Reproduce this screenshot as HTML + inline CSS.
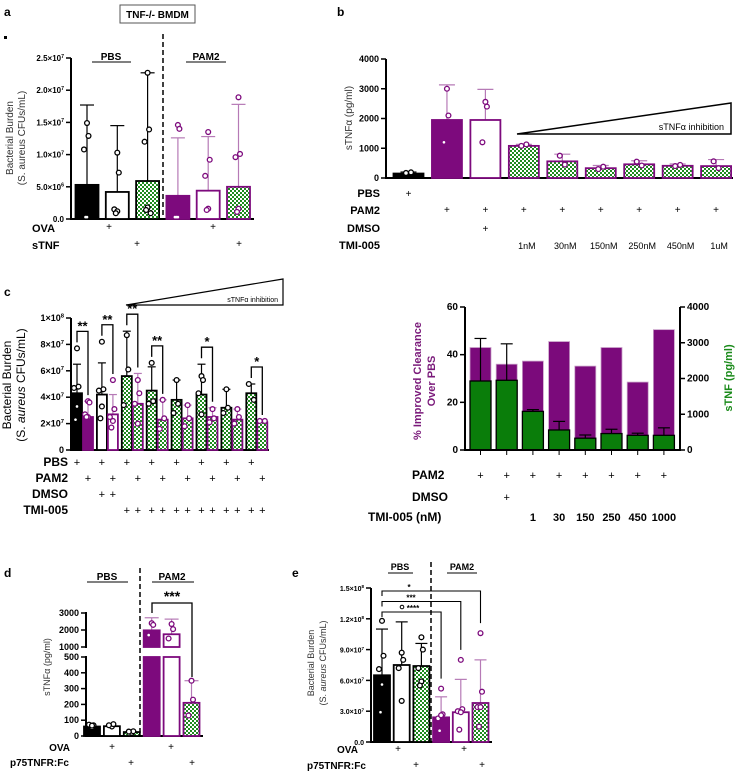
<!DOCTYPE html>
<html><head><meta charset="utf-8"><style>
html,body{margin:0;padding:0;background:#fff;}
svg{display:block;font-family:"Liberation Sans",sans-serif;}
.b{font-weight:bold;}
</style></head><body>
<svg id="fig" width="741" height="773" viewBox="0 0 741 773">
<defs>
<pattern id="chk" width="4" height="4" patternUnits="userSpaceOnUse"><rect width="4" height="4" fill="#fff"/><rect width="2" height="2" fill="#1f8a1f"/><rect x="2" y="2" width="2" height="2" fill="#1f8a1f"/></pattern>
</defs>
<text x="4" y="16" class="b" font-size="12">a</text>
<rect x="4" y="36" width="3" height="3" fill="#000"/>
<text x="337" y="16" class="b" font-size="12">b</text>
<text x="4" y="296" class="b" font-size="12">c</text>
<text x="4" y="577" class="b" font-size="12">d</text>
<text x="292" y="577" class="b" font-size="12">e</text>
<rect x="120" y="5" width="75" height="18" fill="#fff" stroke="#555"/>
<text x="157.5" y="18" text-anchor="middle" class="b" font-size="10">TNF-/- BMDM</text>
<text x="111" y="60" text-anchor="middle" class="b" font-size="10">PBS</text>
<line x1="92" y1="62" x2="131" y2="62" stroke="#000"/>
<text x="206" y="60" text-anchor="middle" class="b" font-size="10">PAM2</text>
<line x1="186" y1="62" x2="226" y2="62" stroke="#000"/>
<line x1="163" y1="34" x2="163" y2="219" stroke="#000" stroke-width="1.5" stroke-dasharray="5,3"/>
<text transform="translate(13,138) rotate(-90)" text-anchor="middle" font-size="10" fill="#333">Bacterial Burden</text>
<text transform="translate(25,138) rotate(-90)" text-anchor="middle" font-size="10" fill="#333">(S. aureus CFUs/mL)</text>
<text x="32" y="232" class="b" font-size="11">OVA</text>
<text x="32" y="249" class="b" font-size="11">sTNF</text>
<text transform="translate(352,118) rotate(-90)" text-anchor="middle" font-size="10" fill="#333">sTNFα (pg/ml)</text>
<polygon points="517,134 731,103 731,134" fill="#fff" stroke="#000" stroke-width="1.5"/>
<text x="724" y="130" text-anchor="end" font-size="9">sTNFα inhibition</text>
<text x="380" y="197" text-anchor="end" class="b" font-size="11">PBS</text>
<text x="380" y="214" text-anchor="end" class="b" font-size="11">PAM2</text>
<text x="380" y="232" text-anchor="end" class="b" font-size="11">DMSO</text>
<text x="380" y="249" text-anchor="end" class="b" font-size="11">TMI-005</text>
<polygon points="126,305 283,279 283,305" fill="#fff" stroke="#000" stroke-width="1.2"/>
<text x="278" y="302" text-anchor="end" font-size="7">sTNFα inhibition</text>
<text transform="translate(11,385) rotate(-90)" text-anchor="middle" font-size="12">Bacterial Burden</text>
<text transform="translate(25,385) rotate(-90)" text-anchor="middle" font-size="12">(S. <tspan font-style="italic">aureus</tspan> CFUs/mL)</text>
<text x="68" y="466" text-anchor="end" class="b" font-size="12">PBS</text>
<text x="68" y="482" text-anchor="end" class="b" font-size="12">PAM2</text>
<text x="68" y="498" text-anchor="end" class="b" font-size="12">DMSO</text>
<text x="68" y="514" text-anchor="end" class="b" font-size="12">TMI-005</text>
<text transform="translate(421,381) rotate(-90)" text-anchor="middle" class="b" font-size="11" fill="#7a1a7a">% Improved Clearance</text>
<text transform="translate(435,381) rotate(-90)" text-anchor="middle" class="b" font-size="11" fill="#7a1a7a">Over PBS</text>
<text transform="translate(732,378) rotate(-90)" text-anchor="middle" class="b" font-size="11" fill="#1a8a1a">sTNF (pg/ml)</text>
<text x="412" y="479" class="b" font-size="12">PAM2</text>
<text x="412" y="501" class="b" font-size="12">DMSO</text>
<text x="368" y="521" class="b" font-size="12">TMI-005 (nM)</text>
<text x="107" y="580" text-anchor="middle" class="b" font-size="10">PBS</text>
<line x1="87" y1="582" x2="128" y2="582" stroke="#000"/>
<text x="172" y="580" text-anchor="middle" class="b" font-size="10">PAM2</text>
<line x1="152" y1="582" x2="194" y2="582" stroke="#000"/>
<line x1="140" y1="568" x2="140" y2="736" stroke="#000" stroke-width="1.5" stroke-dasharray="5,3"/>
<text transform="translate(50,667) rotate(-90)" text-anchor="middle" font-size="9" fill="#333">sTNFα (pg/ml)</text>
<text x="70" y="751" text-anchor="end" class="b" font-size="10">OVA</text>
<text x="10" y="766" class="b" font-size="10">p75TNFR:Fc</text>
<text x="400" y="570" text-anchor="middle" class="b" font-size="9">PBS</text>
<line x1="388" y1="573" x2="413" y2="573" stroke="#000"/>
<text x="462" y="570" text-anchor="middle" class="b" font-size="9">PAM2</text>
<line x1="447" y1="573" x2="477" y2="573" stroke="#000"/>
<line x1="431" y1="562" x2="431" y2="742" stroke="#000" stroke-width="1.5" stroke-dasharray="5,3"/>
<text transform="translate(314,663) rotate(-90)" text-anchor="middle" font-size="9" fill="#333">Bacterial Burden</text>
<text transform="translate(326,663) rotate(-90)" text-anchor="middle" font-size="9" fill="#333">(S. <tspan font-style="italic">aureus</tspan> CFUs/mL)</text>
<text x="337" y="753" class="b" font-size="10">OVA</text>
<text x="307" y="769" class="b" font-size="10">p75TNFR:Fc</text>
</svg>
<script>
const aCategories=['PBS','PBS OVA','PBS sTNF','PAM2','PAM2 OVA','PAM2 sTNF'];
const aMeans=[5.3,4.2,5.9,3.6,4.4,5.0];
const aErrTop=[17.7,14.5,22.7,12.6,12.8,17.8];
const aPoints=[[14.9,12.9,10.8,0.3,0.3],[10.3,7.2,1.5,1.2,0.9],[22.7,13.9,12.0,1.8,1.4,0.9],[14.6,14.0,0.3,0.3,0.3],[13.5,9.2,6.7,1.6,1.4],[18.9,10.1,9.6,1.6,1.1]];
const aTicks=[0,5,10,15,20,25];
const aTickLabels=['0.0','5.0×10^6','1.0×10^7','1.5×10^7','2.0×10^7','2.5×10^7'];
const bCategories=['PBS','PAM2','PAM2 DMSO','1nM','30nM','150nM','250nM','450nM','1uM'];
const bMeans=[150,1950,1950,1080,560,330,460,410,400];
const bErrTop=[200,3130,2980,1130,800,420,580,470,620];
const bErrLow=[null,null,1300,null,null,null,null,null,null];
const bPoints=[[170,190],[3000,2100,1200],[2560,2400,1200],[1080,1130],[750,450],[300,380],[550,420],[400,440],[560,330]];
const bTicks=[0,1000,2000,3000,4000];
const bTickLabels=['0','1000','2000','3000','4000'];
const bDoseLabels=['','','','1nM','30nM','150nM','250nM','450nM','1uM'];
const cMeansPBS=[4.3,4.2,5.6,4.5,3.8,4.2,3.2,4.3];
const cMeansPAM=[2.5,2.7,3.5,2.3,2.4,2.5,2.3,2.1];
const cErrPBS=[6.5,6.6,9.0,6.3,5.3,6.5,4.6,5.0];
const cErrPAM=[3.7,4.2,5.8,3.8,3.4,3.2,3.1,2.2];
const cPtsPBS=[[7.7,4.8,4.7,3.3,2.3],[8.2,4.6,4.5,3.3,2.4],[8.7,6.1,3.4],[6.6,3.7,3.5],[5.3,3.5,2.8],[5.6,5.3,4.3,2.7],[4.6,3.2,2.8],[5.0,3.8]];
const cPtsPAM=[[3.7,3.6,2.7,2.5,2.5],[5.3,3.1,2.5,2.2,1.7],[5.3,4.3,3.5,2.0],[3.8,2.4,1.6],[3.4,2.4,1.8],[3.1,2.4,2.1],[3.1,2.5,2.0],[2.2,2.2]];
const cSigPairs=[0,1,2,3,5,7];
const cSigLabels=['**','**','**','**','*','*'];
const cTicks=[0,2,4,6,8,10];
const cTickLabels=['0','2×10^7','4×10^7','6×10^7','8×10^7','1×10^8'];
const rDoses=['','','1','30','150','250','450','1000'];
const rClearance=[43,36,37.3,45.5,35.2,43,28.5,50.5];
const rTNF=[1930,1950,1080,560,330,460,410,410];
const rTNFErr=[3120,2970,1130,800,420,580,470,620];
const rLeftTicks=[0,20,40,60];
const rLeftLabels=['0','20','40','60'];
const rRightTicks=[0,1000,2000,3000,4000];
const rRightLabels=['0','1000','2000','3000','4000'];
const dMeans=[60,62,25,1980,1750,210];
const dErrTop=[null,null,null,2720,2640,350];
const dPoints=[[55,68,72,66],[60,75,68],[20,30,28],[2400,2300,1700],[2350,2050,1500],[350,230,130]];
const dLowTicks=[0,100,200,300,400,500];
const dLowLabels=['0','100','200','300','400','500'];
const dHighTicks=[1000,2000,3000];
const dHighLabels=['1000','2000','3000'];
const eMeans=[6.5,7.5,7.4,2.4,2.9,3.8];
const eErrTop=[11.0,11.7,9.6,4.4,6.1,8.0];
const eErrLow=[null,4.9,null,null,1.6,null];
const ePoints=[[11.8,8.4,7.1,5.6,2.9],[8.7,8.0,7.2,4.0],[10.2,9.0,7.2,5.9,5.5],[5.2,2.7,2.3,2.6,1.1],[8.0,3.2,3.0,2.9,1.2],[10.6,4.9,3.4,3.4,1.5]];
const eSigTargets=[5,4,3];
const eSigLabels=['*','***','****'];
const eTicks=[0,3,6,9,12,15];
const eTickLabels=['0.0','3.0×10^7','6.0×10^7','9.0×10^7','1.2×10^8','1.5×10^8'];

const NS='http://www.w3.org/2000/svg';
const svg=document.getElementById('fig');
const PUR='#7d0a7d', LPUR='#b67ab6';
function mk(tag,a){const e=document.createElementNS(NS,tag);for(const k in a)e.setAttribute(k,a[k]);svg.appendChild(e);return e;}
function lab(x,y,str,anchor,size,bold,fill){
  const t=mk('text',{x:x,y:y,'text-anchor':anchor,'font-size':size,fill:fill||'#000'});
  if(bold)t.setAttribute('font-weight','bold');
  const p=str.split('^');
  t.appendChild(document.createTextNode(p[0]));
  if(p[1]){const s=document.createElementNS(NS,'tspan');s.setAttribute('dy',-size*0.4);s.setAttribute('font-size',size*0.65);s.textContent=p[1];t.appendChild(s);}
  return t;
}
function yAxis(prefix,x,y0,y1,ticks,labels,yf,side,fs,color){
  const ax=mk('line',{x1:x,y1:y0,x2:x,y2:y1,stroke:'#000','stroke-width':2});
  
  
  ticks.forEach((v,i)=>{
    const y=yf(v);
    const tk=mk('line',{x1:x,y1:y,x2:side<0?x-5:x+5,y2:y,stroke:'#000','stroke-width':1.5});
    
    
    const t=lab(side<0?x-7:x+7,y+3,labels[i],side<0?'end':'start',fs,true,color||'#000');
    
    
  });
}
function xAxis(prefix,x0,x1,y){
  const l=mk('line',{x1:x0,y1:y,x2:x1,y2:y,stroke:'#000','stroke-width':2});
  
  
}
const STY={k:['#000','#000'],p:[PUR,PUR],wk:['#fff','#000'],wp:['#fff',PUR],ck:['url(#chk)','#000'],cp:['url(#chk)',PUR]};
function bar(prefix,cx,w,yTop,yBase,st){
  const s=STY[st];
  const r=mk('rect',{x:cx-w/2,y:Math.min(yTop,yBase),width:w,height:Math.abs(yBase-yTop),fill:s[0],stroke:s[1],'stroke-width':1.8});
  
  
  return r;
}
function err(prefix,cx,yFrom,yTo,cap,col){
  const l=mk('line',{x1:cx,y1:yFrom,x2:cx,y2:yTo,stroke:col,'stroke-width':1.2});
  
  
  const c=mk('line',{x1:cx-cap/2,y1:yTo,x2:cx+cap/2,y2:yTo,stroke:col,'stroke-width':1.2});
  
  
}
function pts(prefix,cx,vals,yf,yTop,st){
  const filled=(st==='k'||st==='p');
  const col=(st==='k'||st==='wk'||st==='ck')?'#000':PUR;
  vals.forEach((v,j)=>{
    const y=yf(v);
    const dx=(j%2?1:-1)*(vals.length>2?(j%3)*1.5:2.5);
    let c;
    if(filled&&y>yTop+3){c=mk('circle',{cx:cx+dx,cy:y,r:1.3,fill:'#fff'});}
    else{c=mk('circle',{cx:cx+dx,cy:y,r:2.4,fill:'#fff',stroke:col,'stroke-width':1.3});}
    
    
  });
}
function plus(prefix,x,y,fs){
  const t=lab(x,y,'+','middle',fs||10,false);
  
  
}

const yA=v=>219-v/25*161;
const aStyles=['k','wk','ck','p','wp','cp'];
yAxis('a',71,58,220,aTicks,aTickLabels,yA,-1,8);
xAxis('a',70,254,219);
aMeans.forEach((m,i)=>{
  const cx=87+i*30.3, st=aStyles[i], col=i<3?'#000':LPUR;
  err('a',cx,yA(m),yA(aErrTop[i]),14,col);
  bar('a',cx,23,yA(m),219,st);
  pts('a',cx,aPoints[i],yA,yA(m),st);
});
[[109,230],[213,230],[137,247],[239,247]].forEach(p=>plus('a',p[0],p[1]));

const yB=v=>178-v/4000*119;
const bStyles=['k','p','wp','cp','cp','cp','cp','cp','cp'];
yAxis('b',386,59,179,bTicks,bTickLabels,yB,-1,9);
xAxis('b',385,733,178);
bMeans.forEach((m,i)=>{
  const cx=408.5+i*38.45, st=bStyles[i], col=i===0?'#000':LPUR;
  err('b',cx,yB(m),yB(bErrTop[i]),16,col);
  if(bErrLow[i]!==null)err('b',cx,yB(m),yB(bErrLow[i]),16,col);
  bar('b',cx,30,yB(m),178,st);
  pts('b',cx,bPoints[i],yB,yB(m),st);
  if(i===0)plus('b',cx,197);
  if(i>0)plus('b',cx,213);
  if(i===2)plus('b',cx,232);
  if(bDoseLabels[i]){const t=lab(cx+3,249,bDoseLabels[i],'middle',9,false);
    
    }
});

const yC=v=>450-v/10*132;
yAxis('c',71,318,451,cTicks,cTickLabels,yC,-1,9);
xAxis('c',70,269,450);
cMeansPBS.forEach((m,i)=>{
  const cl=77+i*24.9, cr=cl+11;
  const sl=i===0?'k':(i===1?'wk':'ck'), sr=i===0?'p':(i===1?'wp':'cp');
  err('c',cl,yC(m),yC(cErrPBS[i]),8,'#000');
  err('c',cr,yC(cMeansPAM[i]),yC(cErrPAM[i]),8,LPUR);
  bar('c',cl,10,yC(m),450,sl);
  bar('c',cr,10,yC(cMeansPAM[i]),450,sr);
  pts('c',cl,cPtsPBS[i],yC,yC(m),sl);
  pts('c',cr,cPtsPAM[i],yC,yC(cMeansPAM[i]),sr);
  plus('c',cl,466,11); plus('c',cr,482,11);
  if(i===1){plus('c',cl,498,11);plus('c',cr,498,11);}
  if(i>=2){plus('c',cl,514,11);plus('c',cr,514,11);}
});
cSigPairs.forEach((p,k)=>{
  const cl=77+p*24.9, cr=cl+11;
  const topL=Math.max(cErrPBS[p],...cPtsPBS[p]), topR=Math.max(cErrPAM[p],...cPtsPAM[p]);
  const yb=yC(topL)-17;
  const br=mk('polyline',{points:`${cl},${yC(topL)-6} ${cl},${yb} ${cr},${yb} ${cr},${yC(topR)-6}`,fill:'none',stroke:'#000','stroke-width':1.3});
  
  
  const t=lab((cl+cr)/2,yb-1,cSigLabels[k],'middle',13,true);
  
  
});

const yL=v=>450-v/60*143, yR=v=>450-v/4000*143;
rClearance.forEach((v,i)=>{
  const cx=480.5+i*26.2;
  const r=mk('rect',{x:cx-10.5,y:yL(v),width:21,height:450-yL(v),fill:'#7b0a7b',stroke:'#c9a0c9','stroke-width':0.8});
  
  
});
rTNF.forEach((v,i)=>{
  const cx=480.5+i*26.2;
  err('r',cx,yR(v),yR(rTNFErr[i]),12,'#000');
  const g=mk('rect',{x:cx-10.5,y:yR(v),width:21,height:450-yR(v),fill:'#0a7d0a',stroke:'#000','stroke-width':1.3});
  
  
  const tk=mk('line',{x1:cx,y1:450,x2:cx,y2:455,stroke:'#000','stroke-width':1});
  
  
  plus('r',cx,479,11);
  if(i===1)plus('r',cx,501,11);
  if(rDoses[i]){const t=lab(cx,521,rDoses[i],'middle',11,true);
    
    }
});
yAxis('r-left',465,307,451,rLeftTicks,rLeftLabels,yL,-1,10);
yAxis('r-right',680,307,451,rRightTicks,rRightLabels,yR,1,10);
xAxis('r',465,680,450);

const yDl=v=>736-v/500*79, yDh=v=>647-(v-1000)/2000*34;
const yD=v=>v<=500?yDl(v):yDh(v);
const dStyles=['k','wk','ck','p','wp','cp'];
yAxis('d-low',86,656,737,dLowTicks,dLowLabels,yDl,-1,9);
yAxis('d-high',86,612,648,dHighTicks,dHighLabels,yDh,-1,9);
xAxis('d',85,203,736);
dMeans.forEach((m,i)=>{
  const cx=92+i*19.9, st=dStyles[i], col=i<3?'#000':LPUR;
  if(dErrTop[i]!==null)err('d',cx,yD(m),yD(dErrTop[i]),14,col);
  if(m>500){bar('d',cx,16,yDl(500),736,st);bar('d',cx,16,yD(m),647,st);}
  else bar('d',cx,16,yD(m),736,st);
  pts('d',cx,dPoints[i],yD,yD(m),st);
});
[[112,750],[171,750],[131,766],[192,766]].forEach(p=>plus('d',p[0],p[1]));
{const br=mk('polyline',{points:'152,613 152,603 192,603 192,677',fill:'none',stroke:'#000','stroke-width':1.3});


const t=lab(172,601,'***','middle',14,true);

}

const yE=v=>742-v/15*154;
const eStyles=['k','wk','ck','p','wp','cp'];
yAxis('e',371,588,743,eTicks,eTickLabels,yE,-1,7);
xAxis('e',370,492,742);
eMeans.forEach((m,i)=>{
  const cx=382+i*19.7, st=eStyles[i], col=i<3?'#000':LPUR;
  err('e',cx,yE(m),yE(eErrTop[i]),12,col);
  if(eErrLow[i]!==null)err('e',cx,yE(m),yE(eErrLow[i]),12,col);
  bar('e',cx,16,yE(m),742,st);
  pts('e',cx,ePoints[i],yE,yE(m),st);
});
[[398,752],[464,752],[416,768],[482,768]].forEach(p=>plus('e',p[0],p[1]));
eSigTargets.forEach((tg,k)=>{
  const tx=382+tg*19.7, yb=591+k*10.5;
  const tipY=yE(Math.max(eErrTop[tg],...ePoints[tg]))-10;
  const br=mk('polyline',{points:`382,${yb+5} 382,${yb} ${tx},${yb} ${tx},${tipY}`,fill:'none',stroke:'#000','stroke-width':1.1});
  
  
  const t=lab(409+k*2,yb-1,eSigLabels[k],'middle',8,true);
  
  
});
{const c=mk('circle',{cx:402,cy:607,r:1.8,fill:'#fff',stroke:'#000','stroke-width':1});

}
</script>
</body></html>
